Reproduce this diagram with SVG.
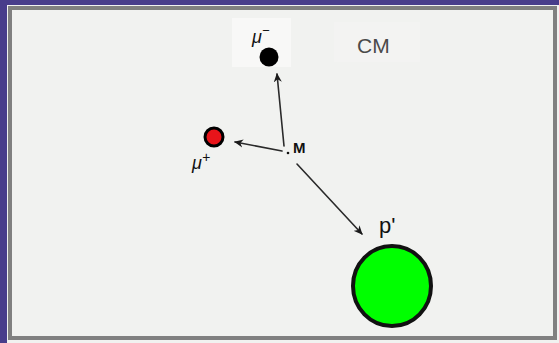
<svg xmlns="http://www.w3.org/2000/svg" width="559" height="343" viewBox="0 0 559 343">
<style>
.hand{font-family:"Liberation Sans",Arial,sans-serif;fill:#111}
.conn line{stroke:#2a2a2a;stroke-width:1.6;stroke-linecap:round}
</style>
<defs>
<marker id="ah" viewBox="0 0 10 10" refX="9" refY="5" markerWidth="9" markerHeight="9" markerUnits="userSpaceOnUse" orient="auto">
<path d="M0,0.5 L10,5 L0,9.5 L3,5 Z" fill="#1a1a1a"/>
</marker>
</defs>
<rect x="0" y="0" width="559" height="343" fill="#f1f2f0"/>
<rect x="0" y="0" width="7" height="343" fill="#483d8b"/>
<rect x="0" y="0" width="559" height="5" fill="#483d8b"/>
<path d="M8,6 H557 V340 H8 Z M12,10 V336 H553 V10 Z" fill="#808080" fill-rule="evenodd"/>
<rect x="232" y="18" width="59" height="49" fill="#f8f8f7"/>
<rect x="334" y="22" width="86" height="40" fill="#f3f3f2"/>
<g id="CM"><text x="357" y="53" class="hand" font-size="21" style="fill:#4a4a4a">CM</text></g>
<g class="conn">
<line x1="284" y1="146" x2="277" y2="74" marker-end="url(#ah)"/>
<line x1="282" y1="151" x2="235" y2="142" marker-end="url(#ah)"/>
<line x1="297" y1="164" x2="362" y2="234" marker-end="url(#ah)"/>
</g>
<g id="mu-minus">
<circle cx="269" cy="57" r="9.5" fill="#000"/>
<text x="252" y="43" class="hand" font-size="18" font-style="italic">μ<tspan dy="-8" font-size="13">−</tspan></text>
</g>
<g id="mu-plus">
<circle cx="214" cy="137" r="9" fill="#e8141a" stroke="#000" stroke-width="3"/>
<text x="192" y="169" class="hand" font-size="18" font-style="italic">μ<tspan dy="-7" font-size="14">+</tspan></text>
</g>
<g id="M">
<circle cx="288" cy="153" r="1.3" fill="#111"/>
<text x="293" y="153" class="hand" font-size="15" font-weight="bold">M</text>
</g>
<g id="p-prime">
<ellipse cx="392" cy="286" rx="39" ry="40" fill="#00ff00" stroke="#111" stroke-width="4"/>
<text x="379" y="233" class="hand" font-size="22">p'</text>
</g>
</svg>
